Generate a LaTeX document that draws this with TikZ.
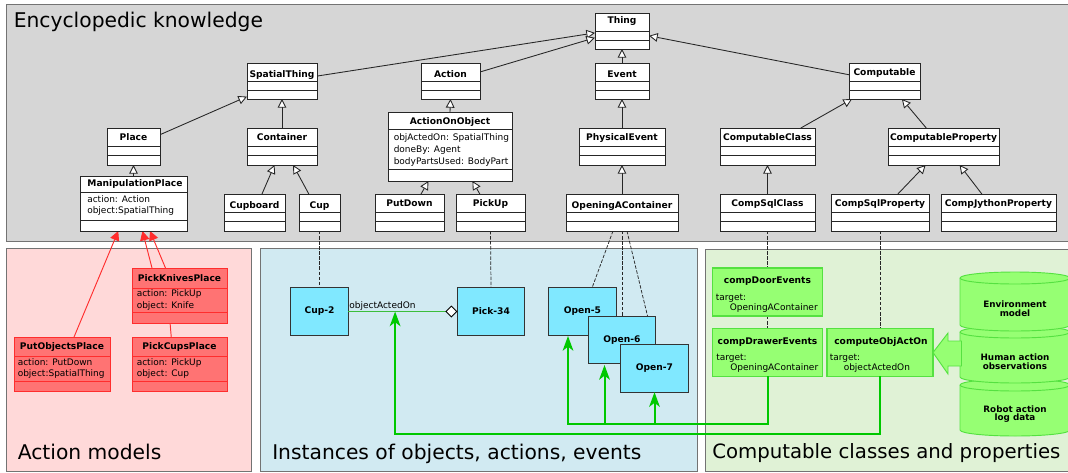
\documentclass[tikz,border=0pt]{standalone}
\usepackage{fontspec}
\setmainfont{DejaVu Sans}
\usetikzlibrary{calc,backgrounds}
\usetikzlibrary{arrows.meta}
\pgfdeclarelayer{links}
\pgfsetlayers{background,links,main}
\definecolor{panelGray}{RGB}{214,214,214}
\definecolor{panelRed}{RGB}{255,217,217}
\definecolor{panelBlue}{RGB}{209,234,242}
\definecolor{panelGreen}{RGB}{224,242,214}
\definecolor{boxRed}{RGB}{255,115,115}
\definecolor{lineRed}{RGB}{255,45,45}
\definecolor{boxCyan}{RGB}{128,232,255}
\definecolor{boxGreen}{RGB}{150,255,115}
\definecolor{lineGreen}{RGB}{85,225,65}
\definecolor{linkGreen}{RGB}{60,190,60}
\definecolor{flowGreen}{RGB}{0,200,0}
\tikzset{
	panel/.style={draw=black!55, line width=0.7pt},
	panelTitle/.style={anchor=base west, font=\fontsize{15.2}{17}\selectfont, inner sep=0pt},
	umlBox/.style={draw=black!85, fill=white, line width=0.65pt, inner sep=0pt, outer sep=0pt},
	umlDiv/.style={draw=black!85, line width=0.65pt},
	umlTitle/.style={font=\fontsize{6.85}{8}\selectfont\bfseries, inner sep=0pt, text height=5pt, text depth=1.3pt},
	umlAttr/.style={anchor=west, align=left, inner sep=0pt, font=\fontsize{6.75}{8.8}\selectfont},
	redBox/.style={draw=lineRed, fill=boxRed},
	inst/.style={draw=black!80, fill=boxCyan, line width=0.7pt, inner sep=0pt, outer sep=0pt, minimum width=50.5pt, minimum height=35.5pt, font=\fontsize{6.85}{8}\selectfont\bfseries},
	compBox/.style={draw=lineGreen, fill=boxGreen, line width=0.8pt, inner sep=0pt, outer sep=0pt},
	compText/.style={anchor=west, align=left, inner sep=0pt, font=\fontsize{6.75}{7.75}\selectfont},
	drum/.style={draw=lineGreen, fill=boxGreen, line width=0.7pt},
	drumEnd/.style={x radius=41.25pt, y radius=4.5pt},
	storeText/.style={align=center, inner sep=0pt, font=\fontsize{6.6}{6.6}\selectfont\bfseries},
	isA/.style={draw=black!85, line width=0.65pt, -{Triangle[open, fill=white, length=6.5pt, width=6.5pt]}},
	modelOf/.style={draw=lineRed, line width=0.7pt, -{Triangle[length=7pt, width=7pt]}},
	instOf/.style={draw=black!85, line width=0.55pt, dash pattern=on 2.6pt off 1.2pt},
	flow/.style={draw=flowGreen, line width=1.5pt},
	flowTip/.style={flow, -{Stealth[length=11pt, width=8pt, inset=3pt]}},
}
\newcommand{\umlClass}[8][]{
	\node[umlBox,#1, minimum width={(#5-#3)*0.75pt}, minimum height={(#6-#4)*0.75pt}] (#2) at ({(#3+#5)/2},{(#4+#6)/2}) {};
	\draw[umlDiv,#1] (#3,#7)--(#5,#7);
	\draw[umlDiv,#1] (#3,#8)--(#5,#8);
}
\newcommand{\storeDrum}[2]{
	\draw[drum] (960,#1)--(960,#2) arc[start angle=180, end angle=360, drumEnd]--(1070,#1) arc[start angle=0, end angle=180, drumEnd]--cycle;
	\draw[drum,fill=none] (960,#1) arc[start angle=180, end angle=360, drumEnd];
}
\begin{document}
\begin{tikzpicture}[x=0.75pt,y=-0.75pt]
\useasboundingbox (0,0) rectangle (1068,472);
\begin{pgfonlayer}{background}
\draw[panel,fill=panelGray] (6,4) rectangle (1074,241);
\draw[panel,fill=panelRed] (6.5,248) rectangle (251,471);
\draw[panel,fill=panelBlue] (260,248) rectangle (697,471);
\draw[panel,fill=panelGreen] (705,249) rectangle (1074,471);
\end{pgfonlayer}
\node[panelTitle] (titleKnow) at (13.5,27) {Encyclopedic knowledge};
\node[panelTitle] (titleModel) at (17.5,459) {Action models};
\node[panelTitle] (titleInst) at (272,459) {Instances of objects, actions, events};
\node[panelTitle, font=\fontsize{14.8}{17}\selectfont] (titleComp) at (712,458) {Computable classes and properties};

\umlClass{Thing}{595}{13}{649}{49}{31}{40}
\umlClass{SpatialThing}{247}{63}{317}{99}{81}{90}
\umlClass{Action}{421}{63}{480}{99}{81}{90}
\umlClass{Event}{595}{63}{649}{99}{81}{90}
\umlClass{Computable}{849}{63}{920}{99}{81}{90}
\umlClass{Place}{107}{128}{160}{165}{146}{155}
\umlClass{Container}{247}{128}{317}{165}{146}{155}
\umlClass{PhysicalEvent}{579}{128}{665}{165}{146}{155}
\umlClass{ComputableClass}{720}{128}{815}{165}{146}{155}
\umlClass{ComputableProperty}{888}{128}{999}{165}{146}{155}
\umlClass{ActionOnObject}{388}{112}{512}{181}{129}{169}
\umlClass{ManipulationPlace}{80}{176}{187}{231}{192}{220}
\umlClass{Cupboard}{224}{194}{285}{231}{212}{221}
\umlClass{Cup}{299}{194}{340}{231}{212}{221}
\umlClass{PutDown}{375}{194}{444}{231}{212}{221}
\umlClass{PickUp}{456}{194}{525}{231}{212}{221}
\umlClass{OpeningAContainer}{566}{194}{678}{231}{212}{221}
\umlClass{CompSqlClass}{720}{194}{815}{231}{212}{221}
\umlClass{CompSqlProperty}{831}{194}{929}{231}{212}{221}
\umlClass{CompJythonProperty}{941}{194}{1056}{231}{212}{221}
\umlClass[redBox]{PickKnivesPlace}{132}{268}{227}{323}{288}{312}
\umlClass[redBox]{PickCupsPlace}{132}{337}{227}{391}{356}{381}
\umlClass[redBox]{PutObjectsPlace}{14}{337}{110}{391}{356}{381}

\node[umlTitle] (tThing) at (622,21) {Thing};
\node[umlTitle] (tSpatial) at (282,75) {SpatialThing};
\node[umlTitle] (tAction) at (450.5,75) {Action};
\node[umlTitle] (tEvent) at (622,75) {Event};
\node[umlTitle] (tComputable) at (884.5,73) {Computable};
\node[umlTitle] (tPlace) at (133.5,138) {Place};
\node[umlTitle] (tContainer) at (282,138) {Container};
\node[umlTitle] (tPhysical) at (622,138) {PhysicalEvent};
\node[umlTitle] (tCompClass) at (767.5,138) {ComputableClass};
\node[umlTitle] (tCompProp) at (943.5,138) {ComputableProperty};
\node[umlTitle] (tAoO) at (450,122) {ActionOnObject};
\node[umlTitle] (tManip) at (135,184) {ManipulationPlace};
\node[umlTitle] (tCupboard) at (254.5,206) {Cupboard};
\node[umlTitle] (tCup) at (319.5,206) {Cup};
\node[umlTitle] (tPutDown) at (409.5,204) {PutDown};
\node[umlTitle] (tPickUp) at (490.5,204) {PickUp};
\node[umlTitle] (tOpening) at (622,206) {OpeningAContainer};
\node[umlTitle] (tSqlClass) at (767.5,204) {CompSqlClass};
\node[umlTitle] (tSqlProp) at (880,204) {CompSqlProperty};
\node[umlTitle] (tJython) at (998.5,204) {CompJythonProperty};
\node[umlTitle] (tKnives) at (179.5,279) {PickKnivesPlace};
\node[umlTitle] (tCups) at (179.5,347) {PickCupsPlace};
\node[umlTitle] (tObjects) at (62,347) {PutObjectsPlace};

\node[umlAttr] (aManip) at (87,205.5) {action: Action\\object:SpatialThing};
\node[umlAttr] (aAoO) at (393.5,150) {objActedOn: SpatialThing\\doneBy: Agent\\bodyPartsUsed: BodyPart};
\node[umlAttr] (aKnives) at (136.5,300) {action: PickUp\\object: Knife};
\node[umlAttr] (aCups) at (136.5,368.5) {action: PickUp\\object: Cup};
\node[umlAttr] (aObjects) at (17.5,368.5) {action: PutDown\\object:SpatialThing};

\node[inst, minimum width=43pt] (CupTwo) at (319.5,311.5) {Cup-2};
\node[inst] (PickThirtyFour) at (491,311.5) {Pick-34};
\node[inst] (OpenFive) at (582.5,311.5) {Open-5};
\node[inst] (OpenSix) at (622,340) {Open-6};
\node[inst] (OpenSeven) at (654.5,368.5) {Open-7};

\node[compBox, minimum width=83pt, minimum height=36pt] (compDoor) at (767.5,292) {};
\node[compBox, minimum width=83pt, minimum height=35.5pt] (compDrawer) at (767.5,352.5) {};
\node[compBox, minimum width=79.5pt, minimum height=35.5pt] (computeObj) at (880,352.5) {};
\node[umlTitle] (tDoor) at (767.5,281) {compDoorEvents};
\node[umlTitle] (tDrawer) at (767.5,342) {compDrawerEvents};
\node[umlTitle] (tObjAct) at (881,342) {computeObjActOn};
\node[compText] (bDoor) at (715.5,303.5) {target:\\\hspace*{10.5pt}OpeningAContainer};
\node[compText] (bDrawer) at (716,363) {target:\\\hspace*{10.5pt}OpeningAContainer};
\node[compText] (bObjAct) at (829.5,363) {target:\\\hspace*{10.5pt}objectActedOn};

\storeDrum{385}{430}
\storeDrum{332}{377}
\storeDrum{278}{325}
\node[storeText] (tRobot) at (1015,414) {Robot action\\log data};
\node[storeText] (tHuman) at (1015,362) {Human action\\observations};
\node[storeText] (tEnv) at (1015,309) {Environment\\model};
\draw[drum] (computeObj.east)--++(15,-19.5)--++(0,8)--++(13.5,0)--++(0,25)--++(-13.5,0)--++(0,8)--cycle;

\coordinate (midLink) at ($(CupTwo.east)!0.43!(PickThirtyFour.west)$);
\coordinate (drawerCorner) at (compDrawer.south |- 0,424);
\coordinate (objCorner) at (computeObj.south |- 0,434);
\coordinate (openFiveCorner) at (568,424);
\coordinate (midCorner) at (midLink |- objCorner);
\coordinate (openSixFoot) at (604.5,424);
\coordinate (openSixTop) at (604.5,365);
\coordinate (openSevenFoot) at (OpenSeven.south |- openSixFoot);
\coordinate (openFiveTop) at (568,336);

\begin{pgfonlayer}{links}
\draw[isA] (SpatialThing.8)--(Thing.184);
\draw[isA] (Action.17)--(Thing.194);
\draw[isA] (Event.north)--(Thing.south);
\draw[isA] (Computable.170)--(Thing.-10);
\draw[isA] (Place.24)--(SpatialThing.204);
\draw[isA] (Container.north)--(SpatialThing.south);
\draw[isA] (ManipulationPlace.north)--(Place.south);
\draw[isA] (Cupboard.68)--(Container.248);
\draw[isA] (Cup.120)--(Container.301);
\draw[isA] (ActionOnObject.north)--(Action.south);
\draw[isA] (PutDown.58)--(ActionOnObject.238);
\draw[isA] (PickUp.120)--(ActionOnObject.303);
\draw[isA] (PhysicalEvent.north)--(Event.south);
\draw[isA] (OpeningAContainer.north)--(PhysicalEvent.south);
\draw[isA] (ComputableClass.29)--(Computable.209);
\draw[isA] (ComputableProperty.133)--(Computable.-46);
\draw[isA] (CompSqlClass.north)--(ComputableClass.south);
\draw[isA] (CompSqlProperty.46)--(ComputableProperty.226);
\draw[isA] (CompJythonProperty.132)--(ComputableProperty.-49);

\draw[modelOf] (PutObjectsPlace.66)--(ManipulationPlace.241);
\draw[modelOf] (PickKnivesPlace.135)--(ManipulationPlace.-72);
\draw[modelOf] (PickCupsPlace.107)--(PickKnivesPlace.117)--(ManipulationPlace.-59);

\draw[instOf] (Cup.south)--(CupTwo.north);
\draw[instOf] (PickUp.south)--(PickThirtyFour.north);
\draw[instOf] (OpeningAContainer.-116)--(OpenFive.68);
\draw[instOf] (OpeningAContainer.south)--(OpenSix.north);
\draw[instOf] (OpeningAContainer.-75)--(OpenSeven.north);
\draw[instOf] (CompSqlClass.south)--(compDoor.north);
\draw[instOf] (compDoor.south)--(compDrawer.north);
\draw[instOf] (CompSqlProperty.south)--(computeObj.north);
\end{pgfonlayer}

\draw[draw=linkGreen, line width=0.7pt, -{Diamond[color=black, fill=white, length=9pt, width=9pt]}] (CupTwo.east)--(PickThirtyFour.west) node[pos=0.0, anchor=south west, inner sep=0.5pt, font=\fontsize{6.75}{8}\selectfont] (linkLabel) {objectActedOn};
\draw[flowTip] (computeObj.south)--(objCorner)--(midCorner)--(midLink);
\draw[flowTip] (compDrawer.south)--(drawerCorner)--(openFiveCorner)--(openFiveTop);
\draw[flowTip] (openSixFoot)--(openSixTop);
\draw[flowTip] (openSevenFoot)--(OpenSeven.south);
\end{tikzpicture}
\end{document}
